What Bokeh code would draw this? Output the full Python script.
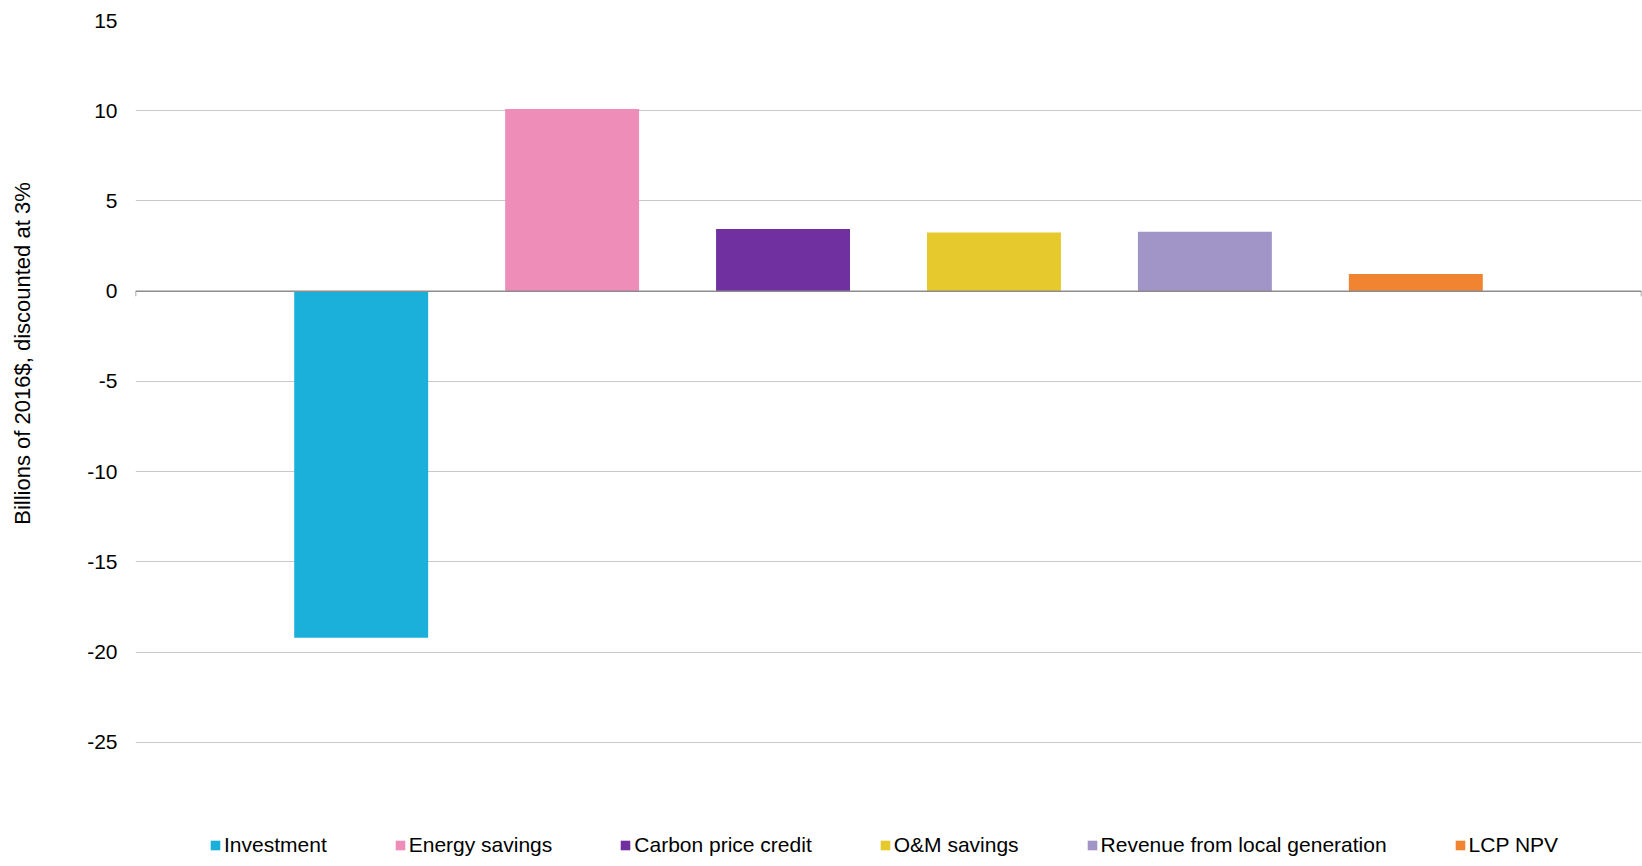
import math
from bokeh.plotting import figure
from bokeh.layouts import row
from bokeh.models import (Range1d, Span, Legend, LegendItem, FixedTicker,
                          PrintfTickFormatter, Label)
from bokeh.embed import file_html
from bokeh.resources import INLINE

# Net present value components (billions of 2016$, discounted at 3%)
categories = ["Investment", "Energy savings", "Carbon price credit",
              "O&M savings", "Revenue from local generation", "LCP NPV"]
values = [-19.2, 10.1, 3.45, 3.25, 3.3, 0.95]
colors = ["#1AB0DA", "#EE8DB7", "#7030A0", "#E6C92C", "#A194C6", "#F08430"]
y_ticks = [-25, -20, -15, -10, -5, 0, 5, 10, 15]
y_title = "Billions of 2016$, discounted at 3%"

FONT = "Liberation Sans"
TITLE_W = 48          # width of the strip holding the value-axis title
x_lo, x_hi = -1.07, len(categories) - 1 + 1.07
# the frame runs on below -25 to leave room for the legend strip
y_range = Range1d(-31.87, 15)

p = figure(width=1642 - TITLE_W, height=866, output_backend="svg",
           toolbar_location=None, x_range=Range1d(x_lo, x_hi), y_range=y_range,
           x_axis_location=None,
           min_border_left=135 - TITLE_W, min_border_right=1, min_border_top=20,
           min_border_bottom=0)
p.outline_line_color = None
p.background_fill_color = "white"
p.border_fill_color = "white"

# value axis: labels only, no line or ticks
yax = p.yaxis[0]
yax.ticker = FixedTicker(ticks=y_ticks)
yax.formatter = PrintfTickFormatter(format="%d")
yax.axis_line_color = None
yax.major_tick_line_color = None
yax.minor_tick_line_color = None
yax.major_tick_out = 0
yax.major_tick_in = 0
yax.major_label_standoff = 18
yax.major_label_text_font = FONT
yax.major_label_text_font_size = "21px"
yax.major_label_text_color = "#000000"

p.xgrid.grid_line_color = None
p.ygrid.ticker = FixedTicker(ticks=y_ticks)
p.ygrid.grid_line_color = "#c9c9c9"
p.ygrid.grid_line_width = 1.2

items = []
for i, (name, val, col) in enumerate(zip(categories, values, colors)):
    r = p.vbar(x=[i], top=[val], bottom=0, width=0.635, fill_color=col,
               line_color=None)
    items.append(LegendItem(label=name, renderers=[r]))

# zero line with a short tick at each end
p.add_layout(Span(location=0, dimension="width", line_color="#8c8c8c",
                  line_width=1.5, level="overlay"))
tick_len = 5 / 18.05
p.segment(x0=[x_lo, x_hi], y0=[0, 0], x1=[x_lo, x_hi], y1=[-tick_len, -tick_len],
          line_color="#8c8c8c", line_width=1.5)

legend = Legend(items=items, orientation="horizontal", location=(74, 9),
                label_text_font=FONT, label_text_font_size="21px",
                label_text_color="#000000", glyph_width=12, glyph_height=12,
                label_standoff=3, spacing=67, padding=0, margin=0,
                border_line_color=None, background_fill_alpha=0,
                label_height=21)
p.add_layout(legend)

# narrow strip on the left carrying the rotated value-axis title
t = figure(width=TITLE_W, height=866, output_backend="svg", toolbar_location=None,
           x_range=Range1d(0, TITLE_W), y_range=y_range,
           x_axis_location=None, y_axis_location=None,
           min_border_left=0, min_border_right=0, min_border_top=20,
           min_border_bottom=0)
t.outline_line_color = None
t.grid.visible = False
t.add_layout(Label(x=TITLE_W / 2 - 2, y=-3.45, text=y_title, angle=math.pi / 2,
                   text_align="center", text_baseline="middle", text_font=FONT,
                   text_font_size="22px", text_color="#000000"))

layout = row(t, p, spacing=0)
open("out.html", "w").write(file_html(layout, INLINE))
